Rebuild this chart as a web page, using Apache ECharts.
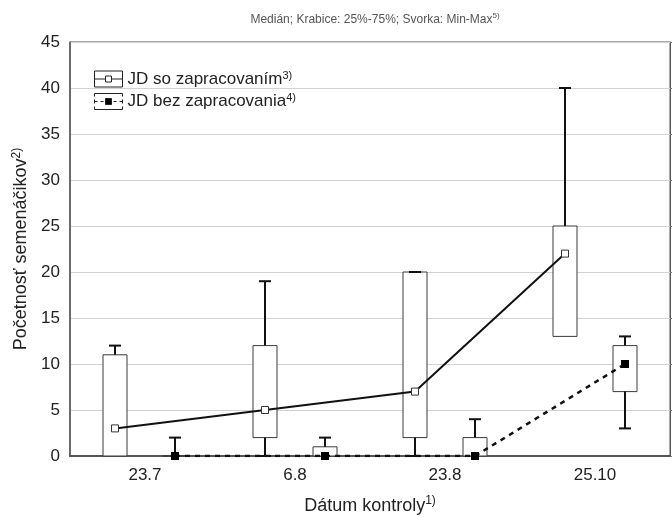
<!DOCTYPE html>
<html>
<head>
<meta charset="utf-8">
<title>Početnosť semenáčikov</title>
<script src="https://cdn.jsdelivr.net/npm/echarts@6/dist/echarts.min.js"></script>
<style>
  html, body { margin: 0; padding: 0; background: #fff; }
  #chart { width: 672px; height: 517px; }
</style>
</head>
<body>
<div id="chart"></div>
<script>
// dátumy kontroly
const categories = ['23.7', '6.8', '23.8', '25.10'];
// [min, 25%, medián, 75%, max]
const soZapracovanim = [[0, 0, 3, 11, 12], [0, 2, 5, 12, 19], [0, 2, 7, 20, 20], [13, 13, 22, 25, 40]];
const bezZapracovania = [[0, 0, 0, 0, 2], [0, 0, 0, 1, 2], [0, 0, 0, 2, 4], [3, 7, 10, 12, 13]];
const seriesNames = ['JD so zapracovaním', 'JD bez zapracovania'];
const seriesNotes = ['3)', '4)'];
const yMin = 0, yMax = 45, yStep = 5;

const FONT = '"Liberation Sans", Arial, sans-serif';
const shift = 0.2; // posun krabíc od stredu kategórie

// x-ová poloha na skrytej hodnotovej osi (kategória i -> i + 0.5)
function withPos(list, dir) {
  return list.map((v, i) => [i + 0.5 + dir * shift].concat(v));
}

function renderBox(params, api) {
  const x = api.value(0);
  const pt = (k) => api.coord([x, api.value(k)]);
  const lo = pt(1), q1 = pt(2), q3 = pt(4), hi = pt(5);
  const half = 12, cap = 6;
  const whisker = { stroke: '#111', lineWidth: 2 };
  const kids = [{
    type: 'rect',
    shape: { x: q3[0] - half, y: q3[1], width: half * 2, height: q1[1] - q3[1] },
    style: { fill: '#fff', stroke: '#3a3a3a', lineWidth: 1 }
  }];
  if (api.value(5) > api.value(4)) {
    kids.push({ type: 'line', shape: { x1: hi[0], y1: q3[1], x2: hi[0], y2: hi[1] }, style: whisker });
  }
  kids.push({ type: 'line', shape: { x1: hi[0] - cap, y1: hi[1], x2: hi[0] + cap, y2: hi[1] }, style: whisker });
  if (api.value(1) < api.value(2)) {
    kids.push({ type: 'line', shape: { x1: lo[0], y1: q1[1], x2: lo[0], y2: lo[1] }, style: whisker });
    kids.push({ type: 'line', shape: { x1: lo[0] - cap, y1: lo[1], x2: lo[0] + cap, y2: lo[1] }, style: whisker });
  }
  return { type: 'group', children: kids };
}

const supRich = (size, lh, color) => ({
  b: { fontSize: size, lineHeight: lh, fontFamily: FONT, color: color || '#222' },
  s: {
    fontSize: Math.round(size * 0.64), lineHeight: Math.round(size * 0.64),
    verticalAlign: 'top', fontFamily: FONT, color: color || '#222'
  }
});

// ikony legendy: krabica s čiarou a značkou mediánu
const iconSo = 'path://M0,0H28 M0,16H28 M0,0V16 M28,0V16 M0,8H11 M17,8H28 M11,5H17V11H11Z';
const iconBez = 'path://M0,0H28 M0,16H28 M0,0V3 M0,6V10 M0,13V16 M28,0V3 M28,6V10 M28,13V16 ' +
  'M0,8H3 M6,8H9 M19,8H22 M25,8H28 M11,5H17V11H11Z';

const chart = echarts.init(document.getElementById('chart'));
chart.setOption({
  animation: false,
  backgroundColor: '#fff',
  title: {
    text: '{b|Medián; Krabice: 25%-75%; Svorka: Min-Max}{s|5)}',
    left: 370,
    textAlign: 'center',
    top: 7,
    textStyle: {
      fontWeight: 'normal',
      rich: {
        b: { fontSize: 12, lineHeight: 16, fontFamily: FONT, color: '#555', fontWeight: 'normal' },
        s: { fontSize: 8, lineHeight: 8, verticalAlign: 'top', fontFamily: FONT, color: '#555', fontWeight: 'normal' }
      }
    }
  },
  legend: {
    orient: 'vertical',
    left: 89,
    top: 65,
    itemWidth: 28,
    itemHeight: 16,
    itemGap: 5,
    formatter: (name) => '{b|' + name + '}{s|' + seriesNotes[seriesNames.indexOf(name)] + '}',
    textStyle: { rich: supRich(17, 18) },
    data: [
      {
        name: seriesNames[0],
        icon: iconSo,
        itemStyle: { color: '#fff', borderColor: '#222', borderWidth: 1 }
      },
      {
        name: seriesNames[1],
        icon: iconBez,
        itemStyle: { color: '#000', borderColor: '#222', borderWidth: 1 }
      }
    ]
  },
  grid: {
    left: 70, top: 42, width: 600, height: 414,
    containLabel: false,
    outerBoundsMode: 'none',
    show: true, borderColor: '#555', borderWidth: 1
  },
  xAxis: [
    {
      type: 'category',
      data: categories,
      position: 'bottom',
      name: '{b|Dátum kontroly}{s|1)}',
      nameLocation: 'middle',
      nameGap: 39,
      nameTextStyle: { rich: supRich(18, 22) },
      axisLine: { lineStyle: { color: '#555', width: 2 } },
      axisTick: { inside: true, alignWithLabel: true, length: 4, lineStyle: { color: '#777' } },
      axisLabel: { fontSize: 17, color: '#222', fontFamily: FONT, margin: 11 },
      splitLine: { show: false }
    },
    {
      type: 'category',
      data: categories,
      position: 'top',
      axisLine: { lineStyle: { color: '#555' } },
      axisTick: { inside: true, alignWithLabel: true, length: 4, lineStyle: { color: '#777' } },
      axisLabel: { show: false }
    },
    {
      type: 'value',
      min: 0,
      max: categories.length,
      show: false
    }
  ],
  yAxis: [
    {
      type: 'value',
      min: yMin, max: yMax, interval: yStep,
      name: '{b|Početnosť semenáčikov}{s|2)}',
      nameLocation: 'middle',
      nameGap: 34,
      nameTextStyle: { rich: supRich(18, 22) },
      axisLine: { show: true, lineStyle: { color: '#555', width: 1.5 } },
      axisTick: { show: false },
      axisLabel: { fontSize: 17, color: '#222', fontFamily: FONT, margin: 10 },
      splitLine: { lineStyle: { color: '#d2d2d2', width: 1 } }
    },
    {
      type: 'value',
      min: yMin, max: yMax, interval: yStep,
      position: 'right',
      axisLine: { show: true, lineStyle: { color: '#555' } },
      axisTick: { show: true, length: 3, lineStyle: { color: '#777' } },
      axisLabel: { show: false },
      splitLine: { show: false }
    }
  ],
  series: [
    {
      name: seriesNames[0] + ' box',
      type: 'custom',
      xAxisIndex: 2,
      renderItem: renderBox,
      encode: { x: 0, y: [1, 2, 3, 4, 5] },
      data: withPos(soZapracovanim, -1),
      z: 2
    },
    {
      name: seriesNames[1] + ' box',
      type: 'custom',
      xAxisIndex: 2,
      renderItem: renderBox,
      encode: { x: 0, y: [1, 2, 3, 4, 5] },
      data: withPos(bezZapracovania, 1),
      z: 2
    },
    {
      name: seriesNames[0],
      type: 'line',
      xAxisIndex: 2,
      data: withPos(soZapracovanim, -1).map((r) => [r[0], r[3]]),
      symbol: 'rect',
      symbolSize: 7,
      showAllSymbol: true,
      lineStyle: { color: '#111', width: 2 },
      itemStyle: { color: '#fff', borderColor: '#333', borderWidth: 1 },
      z: 5
    },
    {
      name: seriesNames[1],
      type: 'line',
      xAxisIndex: 2,
      data: withPos(bezZapracovania, 1).map((r) => [r[0], r[3]]),
      symbol: 'rect',
      symbolSize: 8,
      showAllSymbol: true,
      lineStyle: { color: '#111', width: 2.5, type: [5, 5] },
      itemStyle: { color: '#000', borderColor: '#000', borderWidth: 0 },
      z: 5
    }
  ]
});
</script>
</body>
</html>
